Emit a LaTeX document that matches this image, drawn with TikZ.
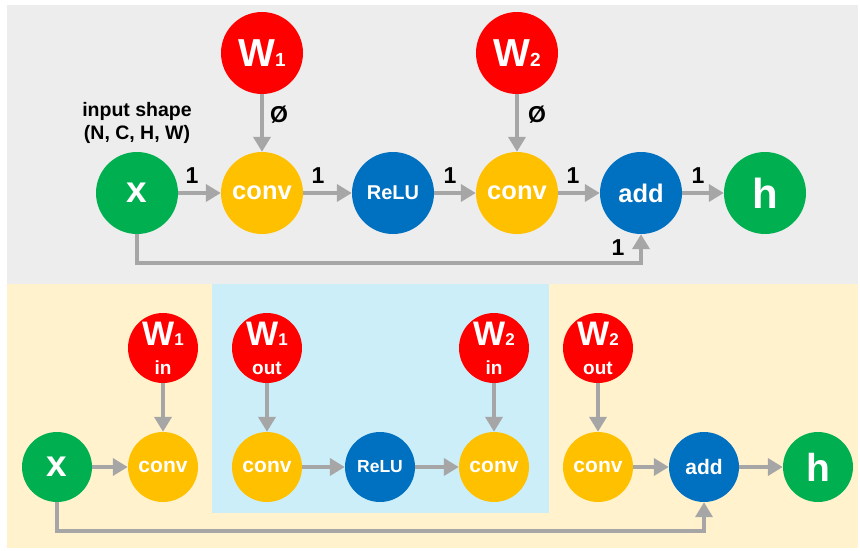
\documentclass[tikz,border=0pt]{standalone}
\usepackage{fontspec}
\setmainfont{Liberation Sans}
\usetikzlibrary{arrows.meta}
\definecolor{cred}{HTML}{FF0000}
\definecolor{cgreen}{HTML}{00B050}
\definecolor{cyellow}{HTML}{FFC000}
\definecolor{cblue}{HTML}{0070C0}
\definecolor{bggray}{HTML}{EDEDED}
\definecolor{bgbeige}{HTML}{FFF2CC}
\definecolor{bgblue}{HTML}{CCEEF9}
\definecolor{agray}{HTML}{A6A6A6}
\newcommand{\fs}[1]{\fontsize{#1}{#1}\selectfont}
\begin{document}
\begin{tikzpicture}[x=1pt,y=-1pt,
  big/.style={circle, minimum size=82pt, inner sep=0pt, text=white, font=\bfseries},
  small/.style={circle, minimum size=70pt, inner sep=0pt, text=white, font=\bfseries},
  red/.style={fill=cred}, green/.style={fill=cgreen}, yellow/.style={fill=cyellow}, blue/.style={fill=cblue},
  arr/.style={draw=agray, line width=4pt, -{Triangle[width=17pt,length=15pt]}},
  lbl/.style={font=\bfseries\fs{23}, text=black, inner sep=0pt},
  wtxt/.style={font=\bfseries, text=white, inner sep=0pt, anchor=base}
]
\useasboundingbox (0,0) rectangle (860,550);
\fill[bggray] (7,5) rectangle (858,284);
\fill[bgbeige] (7,284) rectangle (858,548);
\fill[bgblue] (212,284) rectangle (549,513);

% ---- top ----
\node[big,green] (x) at (137,193) {\fs{37}x};
\node[big,yellow] (c1) at (262,193) {\fs{25.5}conv};
\node[big,red] (w1) at (262,53) {\fs{39}W\fs{19}1};
\node[big,blue] (r) at (393,193) {\fs{20}ReLU};
\node[big,yellow] (c2) at (517,193) {\fs{25.5}conv};
\node[big,red] (w2) at (517,53) {\fs{39}W\fs{19}2};
\node[big,blue] (ad) at (641,193) {\fs{25.5}add};
\node[big,green] (h) at (765,193) {\fs{42}h};

\node[font=\bfseries\fs{19.5}, align=center, inner sep=0pt] (ish) at (137,123) {input shape\\[3pt](N, C, H, W)};

\draw[arr] (x) -- (c1);
\draw[arr] (c1) -- (r);
\draw[arr] (r) -- (c2);
\draw[arr] (c2) -- (ad);
\draw[arr] (ad) -- (h);
\draw[arr] (w1) -- (c1);
\draw[arr] (w2) -- (c2);
\coordinate (s1) at (137,263);
\draw[arr] (x) -- (x |- s1) -| (ad);

\node[lbl] (l1) at (192,176) {1};
\node[lbl] (l2) at (318,176) {1};
\node[lbl] (l3) at (450,176) {1};
\node[lbl] (l4) at (573,176) {1};
\node[lbl] (l5) at (698,176) {1};
\node[lbl] (l6) at (618,248) {1};
\node[lbl] (e1) at (279,115) {Ø};
\node[lbl] (e2) at (537,115) {Ø};

% ---- bottom ----
\node[small,green] (bx) at (57,467) {\fs{37}x};
\node[small,yellow] (bc1) at (163,467) {\fs{21}conv};
\node[small,red] (bw1i) at (163,348) {};
\node[small,yellow] (bc2) at (267,467) {\fs{21}conv};
\node[small,red] (bw1o) at (267,348) {};
\node[small,blue] (br) at (380,467) {\fs{17.5}ReLU};
\node[small,yellow] (bc3) at (494,467) {\fs{21}conv};
\node[small,red] (bw2i) at (494,348) {};
\node[small,yellow] (bc4) at (598,467) {\fs{21}conv};
\node[small,red] (bw2o) at (598,348) {};
\node[small,blue] (bad) at (704,467) {\fs{21}add};
\node[small,green] (bh) at (818,467) {\fs{39}h};

\node[wtxt] (t1a) at (163,345) {\fs{34}W\fs{17}1};
\node[wtxt] (t1b) at (163,374) {\fs{19}in};
\node[wtxt] (t2a) at (267,345) {\fs{34}W\fs{17}1};
\node[wtxt] (t2b) at (267,374) {\fs{19}out};
\node[wtxt] (t3a) at (494,345) {\fs{34}W\fs{17}2};
\node[wtxt] (t3b) at (494,374) {\fs{19}in};
\node[wtxt] (t4a) at (598,345) {\fs{34}W\fs{17}2};
\node[wtxt] (t4b) at (598,374) {\fs{19}out};

\draw[arr] (bx) -- (bc1);
\draw[arr] (bc2) -- (br);
\draw[arr] (br) -- (bc3);
\draw[arr] (bc4) -- (bad);
\draw[arr] (bad) -- (bh);
\draw[arr] (bw1i) -- (bc1);
\draw[arr] (bw1o) -- (bc2);
\draw[arr] (bw2i) -- (bc3);
\draw[arr] (bw2o) -- (bc4);
\coordinate (s2) at (57,531);
\draw[arr] (bx) -- (bx |- s2) -| (bad);
\end{tikzpicture}
\end{document}
